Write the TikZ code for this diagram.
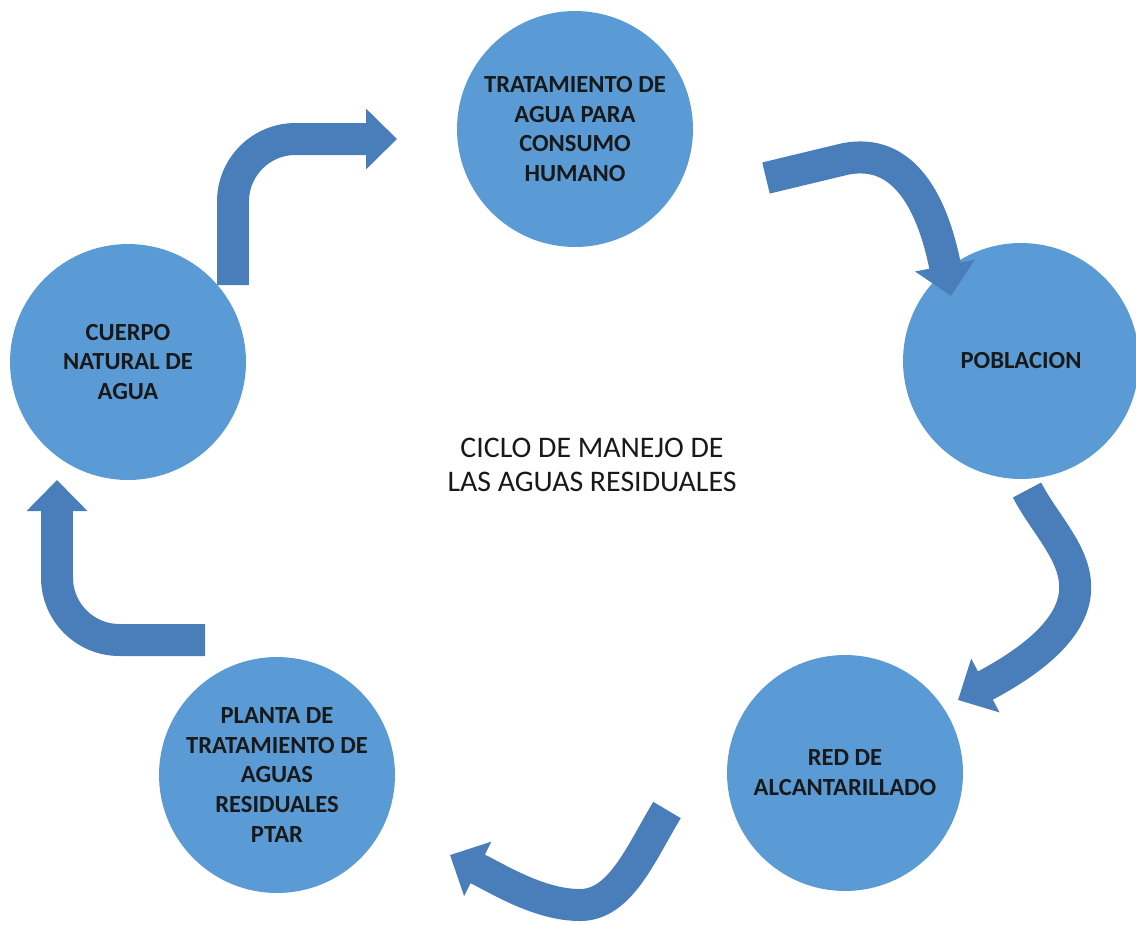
\documentclass[tikz,border=0pt]{standalone}
\usepackage{fontspec}
\setmainfont{Carlito}
\usepackage{xcolor}
\usepackage{tikz}
\usetikzlibrary{arrows.meta,positioning}

\definecolor{circblue}{RGB}{91,155,213}
\definecolor{arrowblue}{RGB}{74,126,187}
\definecolor{textdark}{RGB}{25,25,25}

\tikzset{
  etapa/.style={circle, fill=circblue, minimum size=4.72cm, inner sep=0pt, align=center,
    text=textdark, font=\fontsize{14pt}{17pt}\selectfont\bfseries},
  flecha/.style={draw=arrowblue, line width=0.64cm, -{Triangle[length=0.62cm,width=1.18cm]}},
}

\begin{document}
\begin{tikzpicture}[x=0.02cm, y=-0.02cm]
\useasboundingbox (0,0) rectangle (1136,924);

% etapas del ciclo
\node[etapa] (tratamiento) at (575,129) {TRATAMIENTO DE\\AGUA PARA\\CONSUMO\\HUMANO};
\node[etapa] (poblacion) at (1021,361) {POBLACION};
\node[etapa] (red) at (845,773) {RED DE\\ALCANTARILLADO};
\node[etapa] (planta) at (277,775) {PLANTA DE\\TRATAMIENTO DE\\AGUAS\\RESIDUALES\\PTAR};
\node[etapa] (cuerpo) at (128,362) {CUERPO\\NATURAL DE\\AGUA};

\node[text=textdark, align=center, font=\fontsize{17pt}{19.5pt}\selectfont] (titulo) at (592,465)
  {CICLO DE MANEJO DE\\LAS AGUAS RESIDUALES};

% extremos de las flechas
\coordinate (c1s) at (233,285);
\coordinate (c1e) at (397,139);
\coordinate (c2s) at (766,178);
\coordinate (c2e) at (951,296);
\coordinate (c3s) at (1027,490);
\coordinate (c3e) at (958,700);
\coordinate (c4s) at (667,810);
\coordinate (c4e) at (450,855);
\coordinate (c5s) at (205,640);
\coordinate (c5e) at (57,480);

\draw[flecha, rounded corners=1.25cm] (c1s) |- (c1e);
\draw[flecha] (c2s) -- (845,159) .. controls (905,147) and (933,205) .. (c2e);
\draw[flecha] (c3s) .. controls (1045,525) and (1078,555) .. (1075,592)
  .. controls (1072,630) and (1030,662) .. (c3e);
\draw[flecha] (c4s) .. controls (640,855) and (620,905) .. (580,905)
  .. controls (540,905) and (500,880) .. (c4e);
\draw[flecha, rounded corners=1.25cm] (c5s) -| (c5e);
\end{tikzpicture}
\end{document}
